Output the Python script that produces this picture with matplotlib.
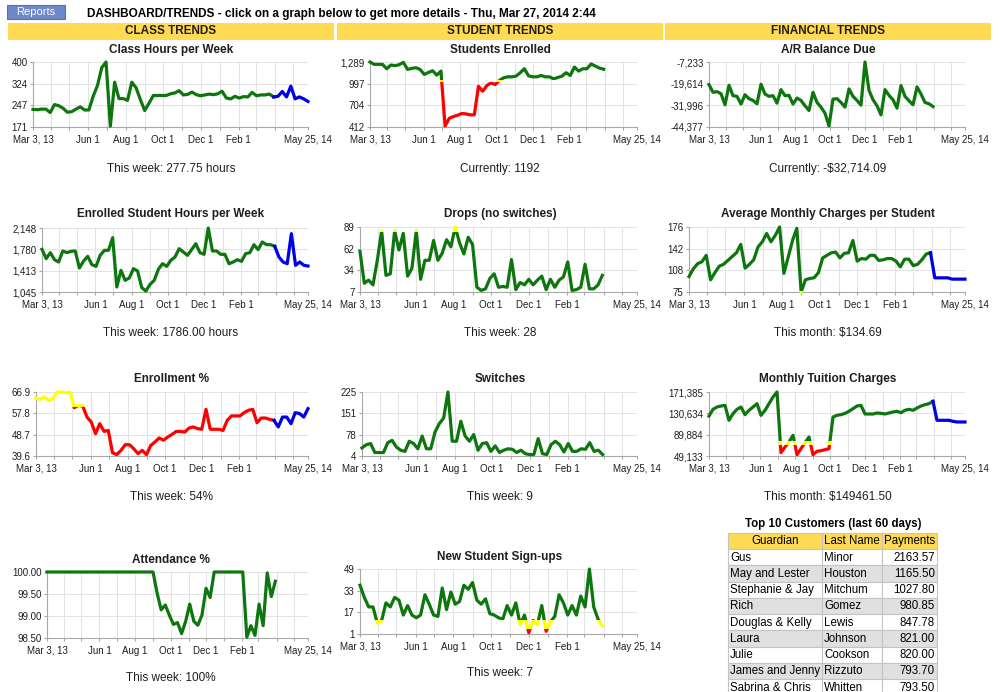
import numpy as np
import matplotlib
matplotlib.use('Agg')
import matplotlib.pyplot as plt
from matplotlib.patches import Rectangle

plt.rcParams['font.family'] = ['Liberation Sans', 'DejaVu Sans']

# weekly points, first one is the week of Mar 3, 2013
START = np.datetime64('2013-03-03')
END = np.datetime64('2014-05-25')

X_LABELED = np.array(['2013-03-03', '2013-06-01', '2013-08-01', '2013-10-01',
                      '2013-12-01', '2014-02-01', '2014-05-25'], dtype='datetime64[D]')
X_LABELS = ['Mar 3, 13', 'Jun 1', 'Aug 1', 'Oct 1', 'Dec 1', 'Feb 1', 'May 25, 14']
X_MINOR = np.array(['2013-04-01', '2013-05-01', '2013-07-01', '2013-09-01', '2013-11-01',
                    '2014-01-01', '2014-03-01', '2014-04-01', '2014-05-01'], dtype='datetime64[D]')

CLASS_HOURS = [233, 232, 234, 234, 222, 250, 246, 237, 223, 225,
               234, 242, 231, 231, 279, 317, 380, 400, 174, 329,
               271, 271, 265, 329, 309, 267, 229, 255, 282, 282,
               282, 282, 288, 291, 299, 284, 286, 294, 285, 281,
               284, 287, 285, 288, 297, 273, 270, 279, 273, 278,
               277, 293, 281, 284, 284, 287, 277]
CLASS_HOURS_PROJ = [279, 296, 277, 315, 270, 277, 270, 261]
CLASS_HOURS_TICKS = ['171', '247', '324', '400']

STUDENTS = [1289, 1257, 1257, 1257, 1198, 1248, 1239, 1253, 1284, 1189,
            1203, 1212, 1189, 1121, 1148, 1171, 1112, 1166, 426, 530,
            553, 571, 594, 589, 576, 576, 962, 894, 971, 1007,
            985, 1039, 1075, 1089, 1089, 1098, 1144, 1198, 1103, 1089,
            1089, 1107, 1089, 1089, 1062, 1080, 1098, 1144, 1107, 1221,
            1166, 1198, 1198, 1262, 1234, 1207, 1192]
STUDENTS_TICKS = ['412', '704', '997', '1,289']

AR_BALANCE = [-20131, -24558, -24173, -25328, -31680, -20516, -26483, -26868, -31295, -25906,
              -28216, -29178, -31103, -19938, -25521, -26868, -26483, -30718, -23018, -26483,
              -26290, -31295, -27831, -29178, -32258, -34953, -24558, -30333, -33028, -36493,
              -43808, -28408, -28216, -30333, -33028, -22633, -26868, -29178, -31873, -7233,
              -23403, -28793, -32258, -37456, -23018, -26290, -28793, -33606, -20708, -26868,
              -29371, -31680, -21478, -25521, -30333, -31103, -32714]
AR_TICKS = ['-44,377', '-31,996', '-19,614', '-7,233']

STUDENT_HOURS = [1780, 1620, 1723, 1602, 1562, 1752, 1723, 1746, 1752, 1459,
                 1579, 1660, 1516, 1487, 1677, 1763, 1763, 1981, 1131, 1418,
                 1246, 1286, 1447, 1407, 1120, 1062, 1177, 1246, 1436, 1533,
                 1487, 1591, 1648, 1792, 1734, 1677, 1775, 1878, 1723, 1694,
                 2148, 1752, 1752, 1694, 1694, 1533, 1562, 1602, 1573, 1706,
                 1723, 1861, 1775, 1907, 1861, 1861, 1832]
STUDENT_HOURS_PROJ = [1648, 1562, 1533, 2050, 1505, 1562, 1505, 1493]
STUDENT_HOURS_TICKS = ['1,045', '1,413', '1,780', '2,148']

DROPS = [58, 18, 22, 16, 47, 84, 28, 30, 84, 60,
         81, 27, 37, 84, 23, 47, 47, 72, 47, 56,
         73, 64, 89, 69, 55, 76, 67, 13, 9, 11,
         24, 30, 13, 14, 13, 48, 10, 19, 16, 23,
         16, 22, 27, 10, 23, 13, 22, 26, 45, 9,
         10, 13, 42, 11, 11, 16, 28]
DROPS_TICKS = ['7', '34', '62', '89']

AVG_CHARGES = [99, 111, 119, 122, 132, 94, 105, 115, 118, 124,
               130, 136, 149, 112, 118, 125, 145, 153, 166, 153,
               163, 176, 104, 129, 155, 174, 75, 94, 96, 97,
               105, 128, 132, 136, 137, 128, 135, 136, 155, 123,
               127, 126, 132, 132, 124, 125, 127, 127, 123, 114,
               126, 126, 116, 118, 125, 134, 136]
AVG_CHARGES_PROJ = [97, 97, 97, 97, 95, 95, 95, 95]
AVG_CHARGES_TICKS = ['75', '108', '142', '176']

ENROLLMENT = [64.3, 63.8, 64.8, 63.3, 64.1, 66.9, 66.9, 66.5, 66.9, 60.2,
              61.2, 60.9, 56.2, 54.1, 49.1, 53.4, 50.1, 50.5, 41.0, 40.2,
              42.0, 44.4, 44.4, 42.7, 40.6, 42.0, 40.2, 44.1, 45.6, 47.3,
              46.3, 47.7, 48.8, 50.1, 50.1, 49.8, 51.5, 52.0, 51.3, 51.0,
              59.5, 51.0, 51.0, 51.0, 50.5, 54.8, 56.7, 56.7, 56.7, 58.1,
              59.1, 59.5, 53.8, 55.8, 55.8, 55.2, 54.8]
ENROLLMENT_PROJ = [52.0, 56.2, 56.2, 53.4, 58.1, 57.7, 56.2, 59.8]
ENROLLMENT_TICKS = ['39.6', '48.7', '57.8', '66.9']

SWITCHES = [32, 43, 47, 16, 16, 16, 50, 58, 35, 24,
            20, 55, 47, 29, 73, 29, 29, 87, 116, 135,
            225, 55, 55, 124, 73, 55, 78, 24, 47, 50,
            20, 39, 16, 24, 29, 27, 16, 24, 12, 9,
            9, 64, 12, 9, 43, 55, 43, 18, 47, 20,
            20, 29, 27, 50, 20, 24, 9]
SWITCHES_TICKS = ['4', '78', '151', '225']

TUITION = [125500, 138300, 142700, 144600, 145900, 117300, 130000, 138300, 142700, 128100,
           136400, 142700, 149100, 126800, 136400, 149100, 161800, 171385, 55500, 66300,
           75900, 88600, 51700, 63100, 74600, 85400, 51700, 58100, 59300, 61200,
           63100, 123600, 126800, 128100, 130600, 134500, 139600, 144600, 145900, 129400,
           129400, 129400, 131300, 130600, 129400, 131300, 133200, 134500, 131900, 136400,
           138300, 136400, 140800, 144600, 147200, 149100, 153600]
TUITION_PROJ = [117300, 117300, 117300, 117300, 115400, 114100, 114100, 114100]
TUITION_TICKS = ['49,133', '89,884', '130,634', '171,385']

ATTENDANCE = [100.0, 100.0, 100.0, 100.0, 100.0, 100.0, 100.0, 100.0, 100.0, 100.0,
              100.0, 100.0, 100.0, 100.0, 100.0, 100.0, 100.0, 100.0, 100.0, 100.0,
              100.0, 100.0, 100.0, 100.0, 100.0, 100.0, 100.0, 99.52, 99.14, 99.25,
              99.02, 98.81, 98.85, 98.60, 98.88, 99.27, 98.88, 98.79, 99.02, 99.63,
              99.42, 100.0, 100.0, 100.0, 100.0, 100.0, 100.0, 100.0, 100.0, 98.52,
              98.78, 98.56, 99.27, 98.78, 99.98, 99.44, 99.79]
ATTENDANCE_TICKS = ['98.50', '99.00', '99.50', '100.00']

SIGNUPS = [37, 28, 21, 21, 9, 11, 24, 21, 28, 26,
           15, 22, 15, 13, 15, 30, 23, 15, 14, 35,
           19, 32, 23, 25, 37, 34, 39, 26, 23, 27,
           16, 15, 13, 12, 22, 15, 24, 8, 15, 2,
           11, 8, 22, 3, 10, 14, 30, 24, 15, 22,
           15, 29, 21, 49, 21, 12, 7]
SIGNUPS_TICKS = ['1', '17', '33', '49']

GUARDIANS = ['Gus', 'May and Lester', 'Stephanie & Jay', 'Rich', 'Douglas & Kelly',
             'Laura', 'Julie', 'James and Jenny', 'Sabrina & Chris']
LAST_NAMES = ['Minor', 'Houston', 'Mitchum', 'Gomez', 'Lewis',
              'Johnson', 'Cookson', 'Rizzuto', 'Whitten']
PAYMENTS = [2163.57, 1165.50, 1027.80, 980.85, 847.78, 821.00, 820.00, 793.70, 793.50]

GREEN = '#0e760e'
BLUE = '#0000e6'
RED = '#ff0000'
YELLOW = '#ffff00'
HEADER_YELLOW = '#ffda52'
TEXT = '#1e1e1e'

W, H = 1000, 692
fig = plt.figure(figsize=(W / 100, H / 100), dpi=100)

# page layer in pixel coordinates for headers, captions and the table
page = fig.add_axes([0, 0, 1, 1])
page.set_xlim(0, W)
page.set_ylim(H, 0)
page.axis('off')


def px_axes(left, top, right, bottom):
    return fig.add_axes([left / W, 1 - bottom / H, (right - left) / W, (bottom - top) / H])


def draw_trend(box, ticks, values, proj=None, bands=None):
    ax = px_axes(*box)
    lo = float(ticks[0].replace(',', ''))
    hi = float(ticks[-1].replace(',', ''))
    ax.set_xlim(START, END)
    ax.set_ylim(lo, hi)
    x0, x1 = ax.get_xlim()
    span = hi - lo
    if bands is None:
        bands = [(None, None, GREEN)]
    dates = START + np.arange(len(values)) * 7
    # same line drawn once per colour band, each copy clipped to its band
    for b_lo, b_hi, color in bands:
        b_lo = lo - 10 * span if b_lo is None else b_lo
        b_hi = hi + 10 * span if b_hi is None else b_hi
        line, = ax.plot(dates, values, color=color, lw=2.3, zorder=3)
        line.set_clip_path(Rectangle((x0 - 100, b_lo), x1 - x0 + 200, b_hi - b_lo,
                                     transform=ax.transData))
    if proj:
        pdates = START + (len(values) - 1 + np.arange(len(proj) + 1)) * 7
        ax.plot(pdates, [values[-1]] + proj, color=BLUE, lw=2.3, zorder=3, clip_on=False)

    ax.set_xticks(X_LABELED, X_LABELS)
    ax.set_xticks(X_MINOR, minor=True)
    ax.set_yticks(np.linspace(lo, hi, 4), ticks)
    ax.grid(True, which='both', color='#e3e3e3', lw=0.75)
    ax.set_axisbelow(True)
    for s in ('top', 'right'):
        ax.spines[s].set_visible(False)
    for s in ('left', 'bottom'):
        ax.spines[s].set_color('#a8a8a8')
        ax.spines[s].set_linewidth(0.8)
    ax.tick_params(which='both', length=2.5, width=0.8, color='#a8a8a8',
                   labelsize=7, labelcolor=TEXT)
    ax.tick_params(axis='x', pad=3)
    ax.tick_params(axis='y', pad=1.5)
    return ax


# top bar
page.add_patch(Rectangle((7, 5), 58, 14, fc='#6e87cb', ec='#5870b4', lw=0.8))
page.text(36, 12, 'Reports', ha='center', va='center', fontsize=8, color='white')
page.text(87, 14.5, 'DASHBOARD/TRENDS - click on a graph below to get more details - Thu, Mar 27, 2014 2:44',
          ha='left', va='center', fontsize=8.5, fontweight='bold', color='black')

COL_SPANS = [(8, 334), (337, 663), (665, 991)]
COL_NAMES = ['CLASS TRENDS', 'STUDENT TRENDS', 'FINANCIAL TRENDS']
for (a, b), name in zip(COL_SPANS, COL_NAMES):
    page.add_patch(Rectangle((a, 23), b - a, 16.5, fc=HEADER_YELLOW, ec='none'))
    page.text((a + b) / 2, 31.5, name, ha='center', va='center', fontsize=8.5,
              fontweight='bold', color=TEXT)

CENTERS = [171, 500, 828]

charts = [
    # column, box, title y, caption y, title, caption, ticks, values, projection, bands
    (0, (33, 62, 308, 127), 50, 169, 'Class Hours per Week', 'This week: 277.75 hours',
     CLASS_HOURS_TICKS, CLASS_HOURS, CLASS_HOURS_PROJ, None),
    (1, (370, 62, 637, 127), 50, 169, 'Students Enrolled', 'Currently: 1192',
     STUDENTS_TICKS, STUDENTS, None,
     [(None, 1020, RED), (1020, 1045, YELLOW), (1045, None, GREEN)]),
    (2, (709, 62, 965, 127), 50, 169, 'A/R Balance Due', 'Currently: -$32,714.09',
     AR_TICKS, AR_BALANCE, None, None),
    (0, (42, 228, 308, 292), 214, 333, 'Enrolled Student Hours per Week', 'This week: 1786.00 hours',
     STUDENT_HOURS_TICKS, STUDENT_HOURS, STUDENT_HOURS_PROJ, None),
    (1, (360, 227, 637, 292), 214, 333, 'Drops (no switches)', 'This week: 28',
     DROPS_TICKS, DROPS, None, [(None, 82.5, GREEN), (82.5, None, YELLOW)]),
    (2, (689, 227, 965, 292), 214, 333, 'Average Monthly Charges per Student', 'This month: $134.69',
     AVG_CHARGES_TICKS, AVG_CHARGES, AVG_CHARGES_PROJ, [(None, 77, YELLOW), (77, None, GREEN)]),
    (0, (36, 392, 308, 456), 379, 497, 'Enrollment %', 'This week: 54%',
     ENROLLMENT_TICKS, ENROLLMENT, ENROLLMENT_PROJ, [(None, 60.4, RED), (60.4, None, YELLOW)]),
    (1, (362, 392, 637, 456), 379, 497, 'Switches', 'This week: 9',
     SWITCHES_TICKS, SWITCHES, None, None),
    (2, (709, 392, 965, 456), 379, 497, 'Monthly Tuition Charges', 'This month: $149461.50',
     TUITION_TICKS, TUITION, TUITION_PROJ,
     [(None, 71000, RED), (71000, 77500, YELLOW), (77500, None, GREEN)]),
    (0, (47, 572, 308, 638), 560, 678, 'Attendance %', 'This week: 100%',
     ATTENDANCE_TICKS, ATTENDANCE, None, None),
    (1, (360, 569, 637, 634), 557, 673, 'New Student Sign-ups', 'This week: 7',
     SIGNUPS_TICKS, SIGNUPS, None, [(None, 5, RED), (5, 11.5, YELLOW), (11.5, None, GREEN)]),
]

for col, box, ty, cy, title, caption, ticks, values, proj, bands in charts:
    draw_trend(box, ticks, values, proj, bands)
    page.text(CENTERS[col], ty, title, ha='center', va='center', fontsize=8.5,
              fontweight='bold', color=TEXT)
    page.text(CENTERS[col], cy, caption, ha='center', va='center', fontsize=8.5,
              color=TEXT, parse_math=False)

# top customers table
page.text(833, 524.5, 'Top 10 Customers (last 60 days)', ha='center', va='center',
          fontsize=8.3, fontweight='bold', color='black')
cols = [728, 822, 882, 937]
head_top = 532.7
row_h = 16.27
for j, name in enumerate(['Guardian', 'Last Name', 'Payments']):
    page.add_patch(Rectangle((cols[j], head_top), cols[j + 1] - cols[j], row_h,
                             fc=HEADER_YELLOW, ec='#c4c4c4', lw=0.8))
    page.text((cols[j] + cols[j + 1]) / 2, head_top + row_h / 2 + 0.5, name,
              ha='center', va='center', fontsize=8.3, color='black')
for i, (g, ln, p) in enumerate(zip(GUARDIANS, LAST_NAMES, PAYMENTS)):
    top = head_top + row_h * (i + 1)
    fc = 'white' if i % 2 == 0 else '#e0e0e0'
    for j in range(3):
        page.add_patch(Rectangle((cols[j], top), cols[j + 1] - cols[j], row_h,
                                 fc=fc, ec='#c4c4c4', lw=0.8))
    mid = top + row_h / 2 + 0.5
    page.text(cols[0] + 2, mid, g, ha='left', va='center', fontsize=8.3, color='black')
    page.text(cols[1] + 2, mid, ln, ha='left', va='center', fontsize=8.3, color='black')
    page.text(cols[3] - 2, mid, f'{p:.2f}', ha='right', va='center', fontsize=8.3, color='black')

fig.savefig('out.png', dpi=100)
